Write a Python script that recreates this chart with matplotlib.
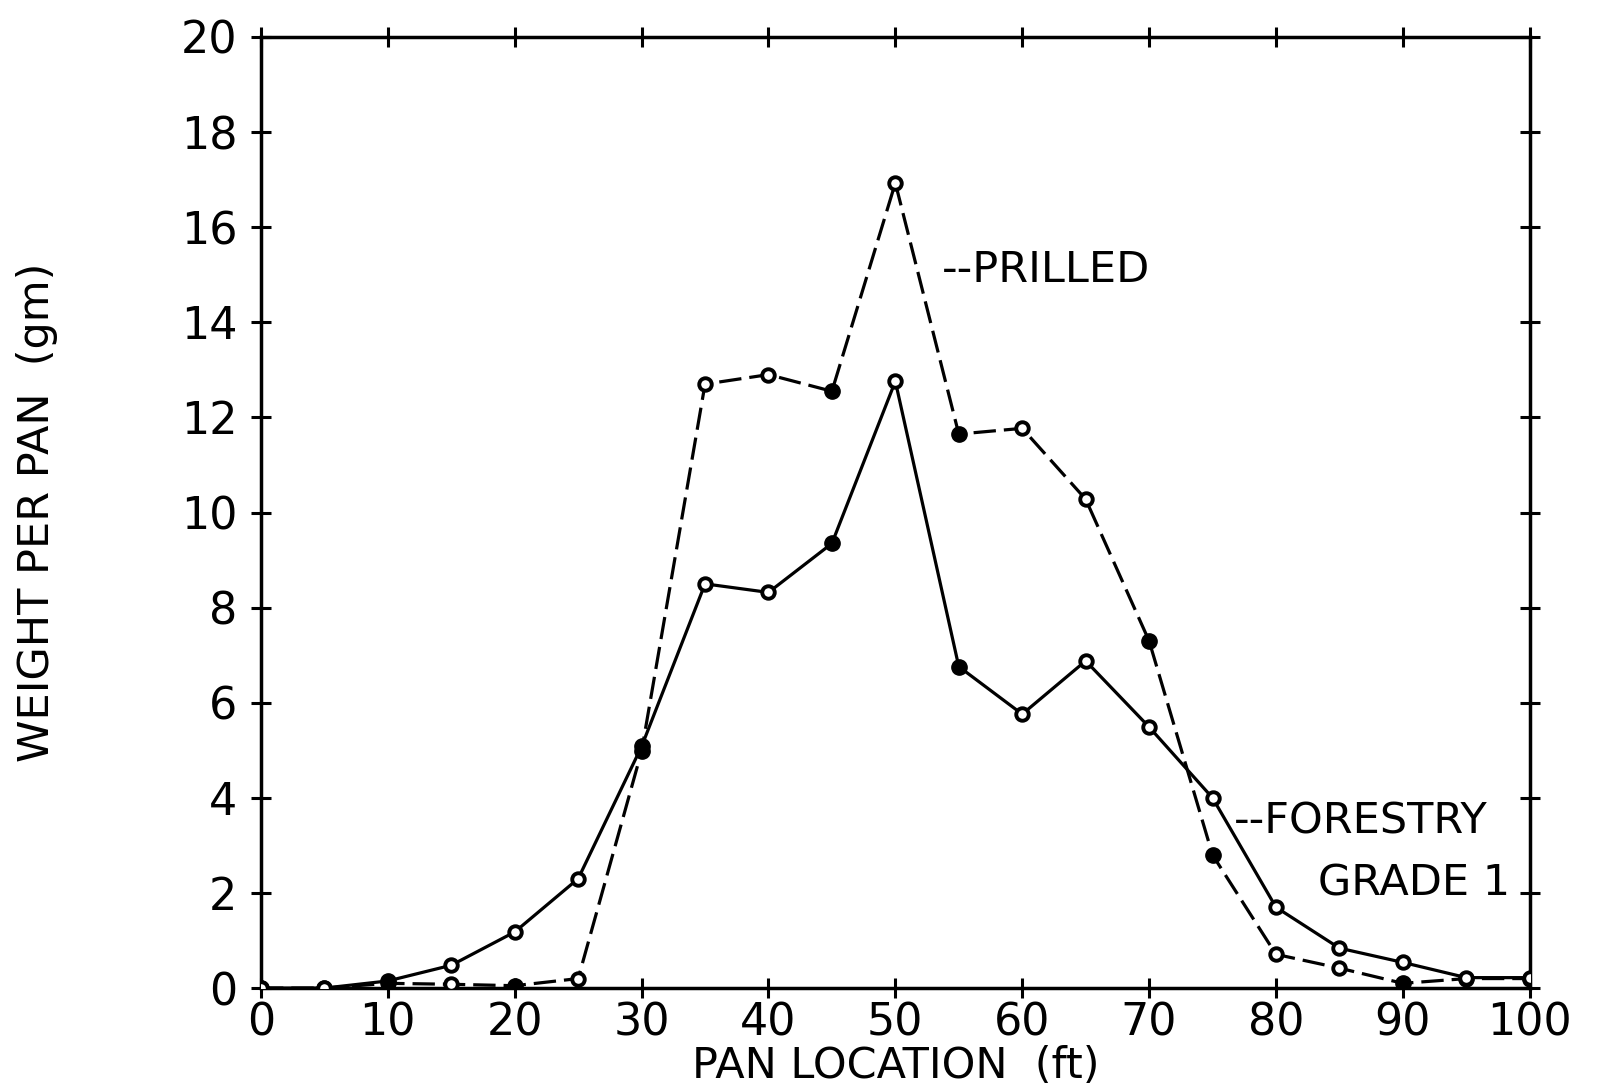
import numpy as np
import matplotlib
matplotlib.use("Agg")
import matplotlib.pyplot as plt

# pan positions (ft) and weights (gm)
pan_ft = [0, 5, 10, 15, 20, 25, 30, 35, 40, 45, 50, 55, 60, 65, 70, 75, 80, 85, 90, 95, 100]
forestry = [0.0, 0.0, 0.15, 0.48, 1.18, 2.3, 5.08, 8.5, 8.32, 9.35, 12.76, 6.76, 5.76, 6.88, 5.49, 4.0, 1.7, 0.84, 0.54, 0.22, 0.22]
prilled = [0.0, 0.0, 0.1, 0.08, 0.05, 0.2, 4.98, 12.7, 12.9, 12.55, 16.93, 11.65, 11.77, 10.28, 7.3, 2.8, 0.71, 0.42, 0.1, 0.2, 0.2]

# which markers came out as solid dots on the plotter
forestry_filled = [10, 30, 45, 55]
prilled_filled = [0, 20, 30, 45, 55, 70, 75, 90, 100]

x_ticks = list(range(0, 101, 10))
y_ticks = list(range(0, 21, 2))

plt.rcParams['font.family'] = ['DejaVu Sans']
plt.rcParams['font.size'] = 31

fig = plt.figure(figsize=(16.06, 10.87), dpi=100)
ax = fig.add_axes([0.1625, 0.091, 0.79, 0.875])

lw = 2.3
ax.plot(pan_ft, prilled, color='black', lw=lw, dashes=(7, 2.5), zorder=2)
ax.plot(pan_ft, forestry, color='black', lw=lw, zorder=2)

for xs, ys, filled in [(pan_ft, prilled, prilled_filled), (pan_ft, forestry, forestry_filled)]:
    xs = np.array(xs)
    ys = np.array(ys)
    mask = np.isin(xs, filled)
    ax.plot(xs[~mask], ys[~mask], 'o', ms=9, mfc='white', mec='black', mew=2.8, zorder=3)
    ax.plot(xs[mask], ys[mask], 'o', ms=11, mfc='black', mec='black', zorder=3)

ax.set_xlim(0, 100)
ax.set_ylim(0, 20)
ax.set_xticks(x_ticks)
ax.set_yticks(y_ticks)
ax.tick_params(direction='inout', length=14, width=2.2, top=True, right=True,
               labeltop=False, labelright=False, pad=3, labelsize=32)
ax.tick_params(axis='y', pad=10)
for s in ax.spines.values():
    s.set_linewidth(2.5)

ax.set_xlabel('PAN LOCATION  (ft)', labelpad=0)
ax.set_ylabel('WEIGHT PER PAN  (gm)')
ax.yaxis.set_label_coords(-0.16, 0.5)

ax.text(53.7, 15.1, '--PRILLED', ha='left', va='center')
ax.text(76.7, 3.5, '--FORESTRY', ha='left', va='center')
ax.text(83.3, 2.2, 'GRADE 1', ha='left', va='center')

fig.savefig('out.png', dpi=100)
